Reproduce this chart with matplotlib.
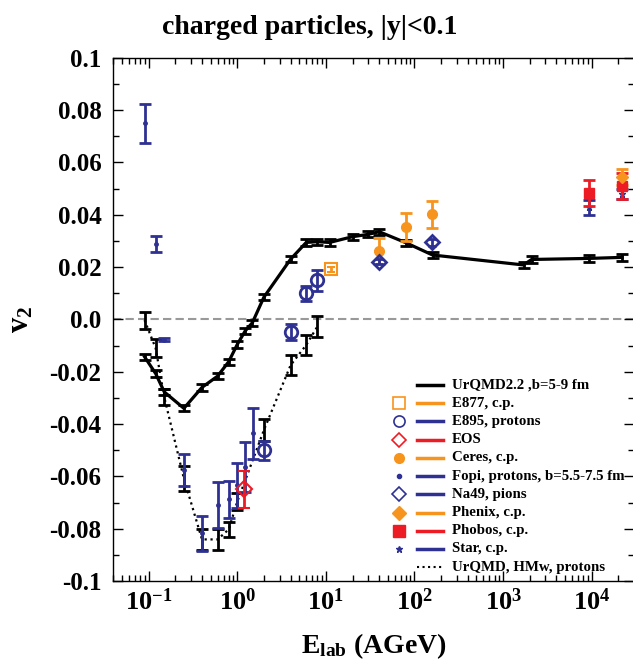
import numpy as np
import matplotlib
matplotlib.use('Agg')
import matplotlib.pyplot as plt

# v2 of charged particles vs. beam energy, UrQMD vs. experiments

# UrQMD2.2, b=5-9 fm
urqmd_e = [0.09, 0.12, 0.15, 0.25, 0.4, 0.6, 0.8, 1.0, 1.23, 1.48, 2.0, 4.0,
           6.0, 8.0, 11.0, 20.0, 30.0, 40.0, 80.0, 160.0, 1700, 2100, 9300, 22000]
urqmd_v2 = [-0.0143, -0.0207, -0.0277, -0.0340, -0.0260, -0.0217, -0.0162,
            -0.0096, -0.0044, -0.0013, 0.0085, 0.0230, 0.0294, 0.0297, 0.0294,
            0.0316, 0.0325, 0.0335, 0.0293, 0.0246, 0.0208, 0.0229, 0.0233, 0.0237]
urqmd_err = [0.0012] * len(urqmd_e)

# UrQMD, HMw, protons
hmw_e = [0.09, 0.12, 0.15, 0.25, 0.4, 0.6, 0.8, 1.0, 2.0, 4.0, 6.0, 8.0]
hmw_v2 = [-0.0003, -0.0110, -0.0297, -0.0608, -0.0841, -0.0841, -0.0803,
          -0.0697, -0.0423, -0.0175, -0.0098, -0.0028]
hmw_err = [0.0033, 0.0035, 0.0030, 0.0048, 0.0040, 0.0040, 0.0030, 0.0032,
           0.0042, 0.0039, 0.0038, 0.0040]

# experiments
fopi_e = [0.09, 0.12, 0.15, 0.25, 0.4, 0.6, 0.8, 1.0, 1.23, 1.5]
fopi_v2 = [0.075, 0.0287, -0.0077, -0.0576, -0.0818, -0.0710, -0.0688,
           -0.0634, -0.0564, -0.0436]
fopi_err = [0.0075, 0.0030, 0.0006, 0.0060, 0.0067, 0.0087, 0.0070, 0.0086,
            0.0097, 0.0097]

eos_e = [1.2]
eos_v2 = [-0.065]
eos_err = [0.0072]

e895_e = [2.0, 4.0, 6.0, 8.0]
e895_v2 = [-0.050, -0.0047, 0.0099, 0.0150]
e895_err = [0.0036, 0.0030, 0.0030, 0.0040]

e877_e = [11.5]
e877_v2 = [0.0191]
e877_err = [0.0010]

ceres_e = [40, 80, 158]
ceres_v2 = [0.0262, 0.0352, 0.0401]
ceres_err = [0.0049, 0.0054, 0.0053]

na49_e = [40, 158]
na49_v2 = [0.0220, 0.0294]
na49_err = [0.0010, 0.0015]

phobos_e = [9300, 22000]
phobos_v2 = [0.0482, 0.0510]
phobos_err = [0.0050, 0.0050]

star_e = [9300, 22000]
star_v2 = [0.0428, 0.0480]
star_err = [0.0028, 0.0020]

phenix_e = [22000]
phenix_v2 = [0.0545]
phenix_err = [0.0030]

orange = '#F7941D'
navy = '#2E3192'
red = '#ED1C24'

plt.rcParams['font.family'] = ['Liberation Serif', 'DejaVu Serif']
plt.rcParams['font.weight'] = 'bold'
plt.rcParams['axes.labelweight'] = 'bold'
plt.rcParams['mathtext.fontset'] = 'custom'
plt.rcParams['mathtext.rm'] = 'Liberation Serif:bold'
plt.rcParams['mathtext.bf'] = 'Liberation Serif:bold'
plt.rcParams['mathtext.it'] = 'Liberation Serif:bold'

fig = plt.figure(figsize=(6.33, 6.66), dpi=100)
ax = fig.add_axes([0.178, 0.1276, 0.8236, 0.7857])

ax.axhline(0.0, color='#999999', ls=(0, (4, 2)), lw=1.5, zorder=1)

# model curves
ax.errorbar(urqmd_e, urqmd_v2, yerr=urqmd_err, color='black', lw=2.3,
            elinewidth=2, capsize=4, capthick=2, zorder=3)
ax.errorbar(hmw_e, hmw_v2, yerr=hmw_err, color='black', lw=1.6, ls=':',
            elinewidth=2, capsize=4, capthick=2, zorder=3)

# data
ax.errorbar(fopi_e, fopi_v2, yerr=fopi_err, fmt='o', ms=2.5, color=navy,
            elinewidth=2, capsize=4, capthick=2, zorder=4)
ax.errorbar(eos_e, eos_v2, yerr=eos_err, fmt='D', ms=8, mfc='none', mew=1.5,
            color=red, elinewidth=2, capsize=4, capthick=2, zorder=5)
ax.errorbar(e895_e, e895_v2, yerr=e895_err, fmt='o', ms=9, mfc='none', mew=2,
            color=navy, elinewidth=2, capsize=4, capthick=2, zorder=5)
ax.errorbar(e877_e, e877_v2, yerr=e877_err, fmt='s', ms=8, mfc='none', mew=1.5,
            color=orange, elinewidth=2, capsize=3, capthick=2, zorder=5)
ax.errorbar(ceres_e, ceres_v2, yerr=ceres_err, fmt='o', ms=7, color=orange,
            elinewidth=2, capsize=4, capthick=2, zorder=5)
ax.errorbar(na49_e, na49_v2, yerr=na49_err, fmt='D', ms=7, mfc='none', mew=2,
            color=navy, elinewidth=2, capsize=3, capthick=2, zorder=5)
ax.errorbar(star_e, star_v2, yerr=star_err, fmt='*', ms=5, color=navy,
            elinewidth=2, capsize=4, capthick=2, zorder=5)
ax.errorbar(phobos_e, phobos_v2, yerr=phobos_err, fmt='s', ms=7, color=red,
            elinewidth=2, capsize=4, capthick=2, zorder=6)
ax.errorbar(phenix_e, phenix_v2, yerr=phenix_err, fmt='D', ms=6, color=orange,
            elinewidth=2, capsize=4, capthick=2, zorder=6)

ax.set_xscale('log')
ax.set_xlim(0.0393, 3.0e4)
ax.set_ylim(-0.1, 0.1)

ax.set_yticks(np.arange(-0.1, 0.1001, 0.02))
ax.set_yticks(np.arange(-0.09, 0.1, 0.02), minor=True)
ylabels = ['-0.1', '-0.08', '-0.06', '-0.04', '-0.02', '0.0',
           '0.02', '0.04', '0.06', '0.08', '0.1']
ax.set_yticklabels(ylabels)
ax.set_xticks([1e-1, 1e0, 1e1, 1e2, 1e3, 1e4])
ax.set_xticklabels([r'$\mathbf{10^{-1}}$', r'$\mathbf{10^{0}}$',
                    r'$\mathbf{10^{1}}$', r'$\mathbf{10^{2}}$',
                    r'$\mathbf{10^{3}}$', r'$\mathbf{10^{4}}$'])
ax.xaxis.set_minor_locator(matplotlib.ticker.LogLocator(base=10, subs=np.arange(2, 10)))
ax.xaxis.set_minor_formatter(matplotlib.ticker.NullFormatter())

ax.tick_params(which='both', direction='in', top=True, right=True,
               labelsize=18, width=1)
ax.tick_params(axis='x', labelsize=19)
ax.tick_params(which='major', length=7)
ax.tick_params(which='minor', length=4)
ax.tick_params(axis='y', pad=8)
ax.tick_params(axis='x', pad=5)
for s in ax.spines.values():
    s.set_linewidth(1)

ax.set_xlabel(r'$\mathbf{E_{lab}}$ (AGeV)', fontsize=20, labelpad=12)
ax.set_ylabel(r'$\mathbf{v_{2}}$', fontsize=22, labelpad=10)
fig.text(0.489, 1 - 27 / 666, 'charged particles, |y|<0.1', ha='center',
         va='center', fontsize=20, fontweight='bold')

# legend, drawn by hand: marker column, colour bar, text
leg = [('UrQMD2.2 ,b=5-9 fm', None, 'black', '-'),
       ('E877, c.p.', dict(marker='s', ms=8, mfc='none', mec=orange, mew=1.2), orange, '-'),
       ('E895, protons', dict(marker='o', ms=8, mfc='none', mec=navy, mew=1.2), navy, '-'),
       ('EOS', dict(marker='D', ms=7, mfc='none', mec=red, mew=1.2), red, '-'),
       ('Ceres, c.p.', dict(marker='o', ms=7, mfc=orange, mec=orange), orange, '-'),
       ('Fopi, protons, b=5.5-7.5 fm', dict(marker='o', ms=3, mfc=navy, mec=navy), navy, '-'),
       ('Na49, pions', dict(marker='D', ms=7, mfc='none', mec=navy, mew=1.2), navy, '-'),
       ('Phenix, c.p.', dict(marker='D', ms=7, mfc=orange, mec=orange), orange, '-'),
       ('Phobos, c.p.', dict(marker='s', ms=8, mfc=red, mec=red), red, '-'),
       ('Star, c.p.', dict(marker='*', ms=5, mfc=navy, mec=navy), navy, '-'),
       ('UrQMD, HMw, protons', None, 'black', ':')]
y0 = 0.3745
dy = 0.0348
for i, (txt, mk, col, ls) in enumerate(leg):
    y = y0 - i * dy
    if mk is not None:
        ax.plot([0.549], [y], transform=ax.transAxes, clip_on=False, ls='none', **mk)
    ax.plot([0.584, 0.634], [y, y], transform=ax.transAxes, color=col,
            lw=2.5 if ls == '-' else 1.5, ls=ls, clip_on=False)
    ax.text(0.651, y, txt, transform=ax.transAxes, fontsize=10.7,
            fontweight='bold', va='center', ha='left')

fig.savefig('out.png', dpi=100)
